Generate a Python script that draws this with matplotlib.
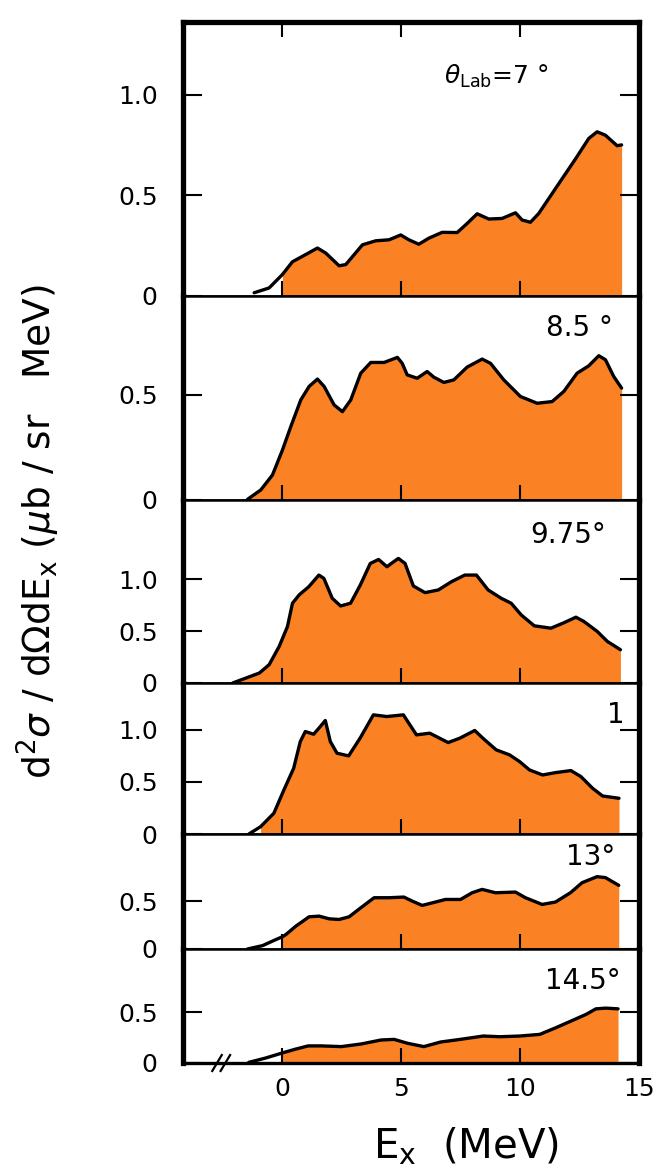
import numpy as np
import matplotlib.pyplot as plt
from matplotlib.transforms import blended_transform_factory

# Excitation-energy spectra at six lab angles (x in MeV, y in ub/sr MeV)
ex_7 = [-1.19, -0.56, 0.0, 0.42, 0.84, 1.47, 1.82, 2.38, 2.66, 3.36, 3.92, 4.48,
        4.97, 5.31, 5.73, 6.15, 6.71, 7.34, 7.76, 8.18, 8.67, 9.23, 9.79, 10.07,
        10.42, 10.77, 11.47, 12.31, 12.87, 13.22, 13.57, 14.06, 14.25]
sig_7 = [0.016, 0.04, 0.107, 0.17, 0.197, 0.238, 0.213, 0.15, 0.156, 0.254, 0.274,
         0.279, 0.303, 0.279, 0.257, 0.287, 0.316, 0.315, 0.36, 0.408, 0.382, 0.385,
         0.413, 0.377, 0.366, 0.41, 0.533, 0.68, 0.782, 0.815, 0.798, 0.746, 0.75]

ex_85 = [-1.47, -0.91, -0.42, 0.0, 0.35, 0.77, 1.12, 1.47, 1.75, 2.17, 2.52, 2.87,
         3.29, 3.71, 4.27, 4.83, 5.03, 5.24, 5.66, 6.08, 6.36, 6.78, 7.2, 7.76,
         8.39, 8.74, 9.3, 10.0, 10.7, 11.33, 11.82, 12.38, 12.87, 13.29, 13.57,
         13.92, 14.25]
sig_85 = [0.003, 0.048, 0.119, 0.238, 0.349, 0.476, 0.54, 0.575, 0.54, 0.452, 0.42,
          0.476, 0.603, 0.654, 0.654, 0.678, 0.65, 0.595, 0.579, 0.611, 0.584,
          0.559, 0.571, 0.632, 0.67, 0.65, 0.571, 0.492, 0.46, 0.468, 0.516, 0.603,
          0.638, 0.686, 0.667, 0.587, 0.532]

ex_975 = [-2.09, -1.53, -0.97, -0.56, -0.14, 0.21, 0.42, 0.7, 1.11, 1.53, 1.74,
          2.09, 2.44, 2.86, 3.27, 3.69, 4.04, 4.39, 4.67, 4.87, 5.15, 5.5, 5.99,
          6.55, 7.1, 7.66, 8.15, 8.64, 9.19, 9.61, 10.03, 10.58, 11.28, 11.84,
          12.33, 12.67, 13.23, 13.65, 14.2]
sig_975 = [0.0, 0.048, 0.096, 0.176, 0.351, 0.543, 0.767, 0.847, 0.927, 1.038,
           1.006, 0.815, 0.741, 0.767, 0.942, 1.15, 1.188, 1.118, 1.166, 1.198,
           1.15, 0.933, 0.869, 0.895, 0.974, 1.038, 1.038, 0.895, 0.815, 0.767,
           0.655, 0.55, 0.527, 0.581, 0.633, 0.591, 0.495, 0.4, 0.32]

ex_11 = [-1.41, -0.92, -0.36, 0.06, 0.47, 0.75, 0.96, 1.31, 1.59, 1.8, 2.01, 2.29,
         2.78, 3.26, 3.82, 4.38, 5.08, 5.63, 6.19, 6.96, 7.45, 8.08, 8.42, 8.98,
         9.54, 9.96, 10.38, 10.93, 11.49, 12.12, 12.54, 13.03, 13.45, 14.14]
sig_11 = [0.0, 0.07, 0.2, 0.423, 0.631, 0.888, 0.984, 0.958, 1.032, 1.09, 0.888,
          0.776, 0.75, 0.92, 1.144, 1.128, 1.144, 0.952, 0.968, 0.878, 0.92, 0.994,
          0.92, 0.808, 0.76, 0.696, 0.615, 0.567, 0.59, 0.609, 0.551, 0.439, 0.365,
          0.343]

ex_13 = [-1.47, -0.84, -0.28, 0.0, 0.14, 0.56, 1.12, 1.54, 1.96, 2.38, 2.8, 3.29,
         3.85, 4.48, 5.1, 5.45, 5.87, 6.43, 6.85, 7.48, 7.97, 8.39, 8.95, 9.79,
         10.21, 10.91, 11.47, 12.1, 12.59, 13.22, 13.57, 14.13]
sig_13 = [0.0, 0.035, 0.098, 0.128, 0.15, 0.238, 0.336, 0.343, 0.315, 0.308, 0.336,
          0.43, 0.535, 0.535, 0.542, 0.5, 0.455, 0.49, 0.517, 0.517, 0.587, 0.622,
          0.587, 0.594, 0.535, 0.465, 0.49, 0.587, 0.692, 0.755, 0.745, 0.664]

ex_145 = [-1.42, -0.72, -0.03, 0.53, 1.08, 1.64, 2.47, 3.31, 4.14, 4.69, 5.25,
          5.94, 6.64, 7.47, 8.44, 9.14, 9.97, 10.81, 11.5, 12.19, 12.75, 13.17,
          13.58, 14.1]
sig_145 = [0.006, 0.048, 0.097, 0.135, 0.168, 0.168, 0.161, 0.187, 0.226, 0.232,
           0.194, 0.161, 0.206, 0.232, 0.265, 0.258, 0.265, 0.281, 0.348, 0.419,
           0.477, 0.532, 0.539, 0.532]

angle_labels = [r'$\theta_{\rm Lab}$=7 °', '8.5 °', '9.75°', '1', '13°', '14.5°']
ytick_sets = [[0, 0.5, 1.0], [0, 0.5], [0, 0.5, 1.0], [0, 0.5, 1.0], [0, 0.5], [0, 0.5]]
ytick_text = [['0', '0.5', '1.0'], ['0', '0.5'], ['0', '0.5', '1.0'],
              ['0', '0.5', '1.0'], ['0', '0.5'], ['0', '0.5']]

series = [(ex_7, sig_7), (ex_85, sig_85), (ex_975, sig_975),
          (ex_11, sig_11), (ex_13, sig_13), (ex_145, sig_145)]
fill_start = [0.0, -1.47, -2.09, -1.0, 0.0, -0.05]
y_top = [1.36, 0.97, 1.76, 1.45, 1.2, 1.12]
label_pos = [(6.8, 1.09, 'left'), (13.9, 0.82, 'right'), (13.6, 1.42, 'right'),
             (14.0, 1.14, 'center'), (14.0, 0.96, 'right'), (14.2, 0.81, 'right')]
label_size = [18, 20, 20, 20, 20, 20]

orange = '#FA8225'

fig = plt.figure(figsize=(6.71, 11.69), dpi=100)
gs = fig.add_gridspec(6, 1, height_ratios=[274, 204, 183, 151, 115, 114],
                      left=0.272, right=0.953, top=1 - 22 / 1169,
                      bottom=1 - 1063 / 1169, hspace=0)

axes = []
for i in range(6):
    ax = fig.add_subplot(gs[i])
    axes.append(ax)
    x = np.array(series[i][0])
    y = np.array(series[i][1])
    m = x >= fill_start[i]
    ax.fill_between(x[m], 0, y[m], color=orange, lw=0, zorder=1)
    ax.plot(x, y, color='black', lw=2.4, zorder=2, solid_capstyle='round',
            solid_joinstyle='round')
    ax.set_xlim(-4.2, 15)
    ax.set_ylim(0, y_top[i])
    ax.set_yticks(ytick_sets[i])
    ax.set_yticklabels(ytick_text[i])
    ax.set_xticks([0, 5, 10, 15])
    ax.tick_params(axis='y', direction='in', length=14, width=1.5, left=True,
                   right=True, labelsize=18, pad=18)
    ax.tick_params(axis='x', direction='in', length=11, width=1.5, bottom=True,
                   top=(i == 0), labelbottom=(i == 5), labelsize=18, pad=10)
    for side in ['left', 'right']:
        ax.spines[side].set_linewidth(3.8)
    ax.spines['top'].set_linewidth(3.8 if i == 0 else 1.8)
    ax.spines['bottom'].set_linewidth(1.8 if i < 5 else 2.4)
    lx, ly, ha = label_pos[i]
    ax.text(lx, ly, angle_labels[i], ha=ha, va='center', fontsize=label_size[i])

# axis break on the lowest panel
ax = axes[-1]
trans = blended_transform_factory(ax.transData, ax.transAxes)
for dx in (-0.25, 0.1):
    ax.plot([-2.7 + dx, -2.3 + dx], [-0.07, 0.07], color='black', lw=1.6,
            transform=trans, clip_on=False, zorder=5)

fig.text(0.695, 0.019, r'E$_{\rm x}$  (MeV)', ha='center', va='center',
         fontsize=29)
fig.text(0.057, 0.545, r'd$^2\sigma$ / d$\Omega$dE$_{\rm x}$ ($\mu$b / sr   MeV)',
         rotation=90, ha='center', va='center', fontsize=27)

plt.savefig('out.png', dpi=100)
